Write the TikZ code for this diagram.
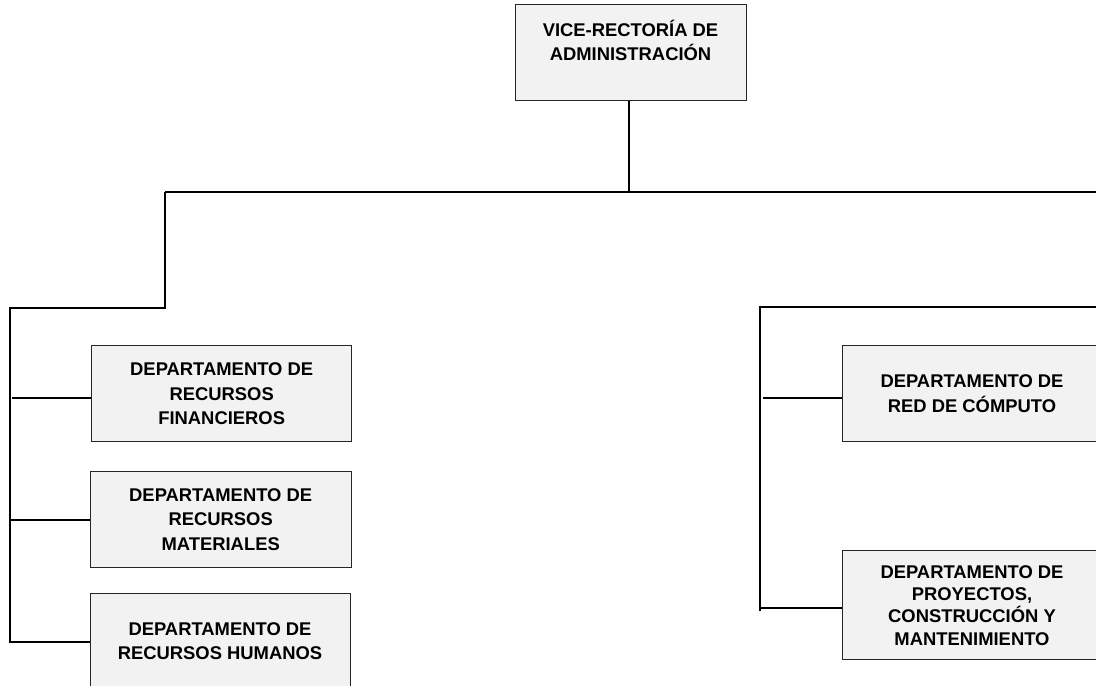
\documentclass[tikz,border=0pt]{standalone}
\usepackage{fontspec}
\setmainfont{Liberation Sans}
\definecolor{boxgray}{HTML}{F2F2F2}
\tikzset{
  dept/.style={draw=black!85, fill=boxgray, line width=1pt, align=center,
    minimum width=260pt, minimum height=96pt, inner sep=1pt,
    font=\bfseries\fontsize{18.4}{24.5}\selectfont},
  link/.style={line width=1.6pt}
}
\begin{document}
\begin{tikzpicture}[x=1pt,y=-1pt]
   \useasboundingbox (0,0) rectangle (1096,686);
   \clip (0,0) rectangle (1096,686);
   % boxes
   \node[dept, minimum width=231pt] (vra) at (630.5,52.7) {VICE-RECTORÍA DE\\ADMINISTRACIÓN\\\mbox{}};
   \node[dept] (fin) at (221.7,393.7) {DEPARTAMENTO DE\\RECURSOS\\FINANCIEROS};
   \node[dept, minimum width=261pt] (mat) at (220.7,519.2) {DEPARTAMENTO DE\\RECURSOS\\MATERIALES};
   \node[dept] (hum) at (220,641) {DEPARTAMENTO DE\\RECURSOS HUMANOS};
   \node[dept] (red) at (972,393.7) {DEPARTAMENTO DE\\RED DE CÓMPUTO};
   \node[dept, minimum height=109pt,
         font=\bfseries\fontsize{18.4}{22.3}\selectfont] (pro) at (972,605.4)
         {DEPARTAMENTO DE\\PROYECTOS,\\CONSTRUCCIÓN Y\\MANTENIMIENTO};
   % junctions
   \coordinate (hub) at (629,192);
   \coordinate (ltop) at (165,192);
   \coordinate (rend) at (1100,192);
   \coordinate (lbus) at (10,308);
   \coordinate (rbus) at (760,307);
   \coordinate (rbusend) at (1100,307);
   \coordinate (lb1) at (12,398);
   \coordinate (lb2) at (10,520);
   \coordinate (rb1) at (763,398);
   \coordinate (rb2) at (760,608);
   % lines
   \draw[link] (vra.south -| hub) -- (hub);
   \draw[link] (ltop) -- (rend);
   \draw[link] (ltop) |- (lbus) |- (hum.west |- 0,642);
   \draw[link] (lb1) -- (lb1 -| fin.west);
   \draw[link] (lb2) -- (lb2 -| mat.west);
   \draw[link] (rbusend) -- (rbus) -- (760,611);
   \draw[link] (rb1) -- (rb1 -| red.west);
   \draw[link] (rb2) -- (rb2 -| pro.west);
\end{tikzpicture}
\end{document}
